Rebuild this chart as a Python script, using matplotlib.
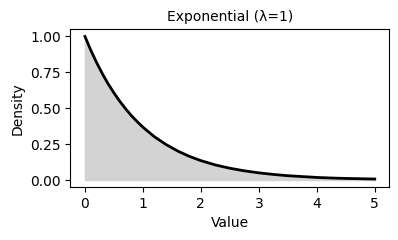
import matplotlib
matplotlib.use("Agg")
import matplotlib.pyplot as plt

# Values
x_values = [0.0, 0.1, 0.2, 0.3, 0.4, 0.5, 0.6, 0.7, 0.8, 0.9, 1.0, 1.2, 1.4, 1.6, 1.8, 2.0,
            2.25, 2.5, 2.75, 3.0, 3.25, 3.5, 3.75, 4.0, 4.25, 4.5, 4.75, 5.0]
density = [1.000, 0.905, 0.819, 0.741, 0.670, 0.607, 0.549, 0.497, 0.449, 0.407, 0.368,
           0.301, 0.247, 0.202, 0.165, 0.135, 0.105, 0.082, 0.064, 0.050, 0.039, 0.030,
           0.024, 0.018, 0.014, 0.011, 0.009, 0.007]
title = "Exponential (λ=1)"
x_label = "Value"
y_label = "Density"

fig, ax = plt.subplots(figsize=(3.98, 2.4), dpi=100)
ax.fill_between(x_values, density, color="lightgray")
ax.plot(x_values, density, color="black", linewidth=2)
ax.set_title(title, fontsize=10)
ax.set_xlabel(x_label)
ax.set_ylabel(y_label)
fig.subplots_adjust(left=0.177, right=0.978, top=0.878, bottom=0.220)
fig.savefig("out.png", dpi=100)
